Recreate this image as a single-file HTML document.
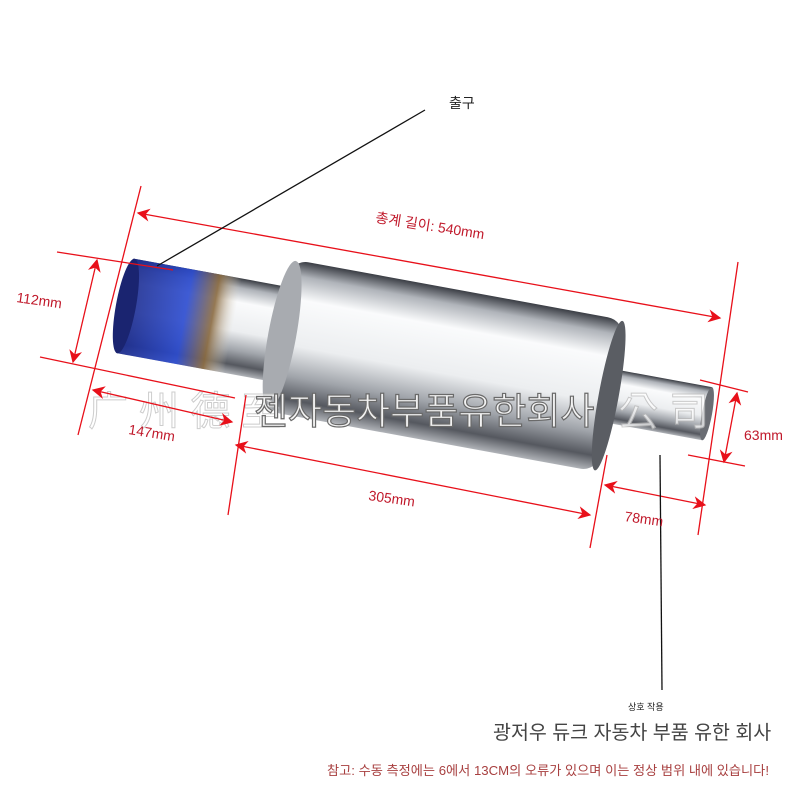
<!DOCTYPE html>
<html><head><meta charset="utf-8"><style>
html,body{margin:0;padding:0;background:#fff;}
svg{display:block}
text{font-family:"Liberation Sans","Noto Sans CJK KR",sans-serif;}
</style></head><body>
<svg width="800" height="800" viewBox="0 0 800 800" xmlns="http://www.w3.org/2000/svg">
<defs>
<linearGradient id="steel" x1="0" y1="0" x2="0" y2="1">
<stop offset="0" stop-color="#3a3d44"/><stop offset="0.1" stop-color="#b0b4ba"/>
<stop offset="0.25" stop-color="#fafbfc"/><stop offset="0.55" stop-color="#eceef0"/>
<stop offset="0.75" stop-color="#a0a4aa"/><stop offset="0.9" stop-color="#55585f"/><stop offset="1" stop-color="#b0b3b8"/>
</linearGradient>
<linearGradient id="blue" x1="0" y1="0" x2="1" y2="0">
<stop offset="0" stop-color="#1b2a8a"/><stop offset="0.55" stop-color="#2a4ad0"/><stop offset="0.8" stop-color="#8a6a40"/><stop offset="1" stop-color="#d8d0c0" stop-opacity="0"/>
</linearGradient>
<marker id="ar" viewBox="0 0 10 10" refX="9" refY="5" markerWidth="13" markerHeight="13" markerUnits="userSpaceOnUse" orient="auto-start-reverse"><path d="M0,0 L10,5 L0,10 L3,5z" fill="#e8101a"/></marker>
</defs>
<g transform="rotate(10.4 420 360)">
 <rect x="120" y="312" width="170" height="96" fill="url(#steel)"/>
 <rect x="120" y="312" width="110" height="96" fill="url(#blue)" opacity="0.9"/>
 <ellipse cx="121" cy="360" rx="10" ry="48" fill="#1a2470"/>
 <rect x="600" y="334" width="112" height="54" fill="url(#steel)"/>
 <ellipse cx="712" cy="361" rx="5" ry="27" fill="#6a6d73"/>
 <rect x="275" y="284" width="340" height="154" rx="18" fill="url(#steel)"/>
 <ellipse cx="280" cy="361" rx="14" ry="76" fill="#a8abb0"/>
 <ellipse cx="612" cy="361" rx="10" ry="76" fill="#5a5d63"/>
</g>
<text x="88" y="425" font-size="40" fill="#fff" stroke="#b8b8b8" stroke-width="1" opacity="0.7" font-family="Noto Sans CJK SC,sans-serif">广 州 德 至</text>
<text x="618" y="425" font-size="40" fill="#fff" stroke="#b8b8b8" stroke-width="1" opacity="0.7" font-family="Noto Sans CJK SC,sans-serif">公 司</text>
<text x="254" y="424" font-size="37" fill="#f2f2f2" stroke="#6a6a6a" stroke-width="1.2">젠자동차부품유한회사</text>
<g stroke="#e8101a" stroke-width="1.3" fill="none">
 <line x1="141" y1="186" x2="78" y2="435"/>
 <line x1="738" y1="262" x2="698" y2="535"/>
 <line x1="138" y1="213" x2="720" y2="318" marker-start="url(#ar)" marker-end="url(#ar)"/>
 <line x1="57" y1="252" x2="173" y2="270"/>
 <line x1="40" y1="357" x2="235" y2="398"/>
 <line x1="97" y1="260" x2="73" y2="362" marker-start="url(#ar)" marker-end="url(#ar)"/>
 <line x1="93" y1="390" x2="232" y2="422" marker-start="url(#ar)" marker-end="url(#ar)"/>
 <line x1="246" y1="395" x2="228" y2="515"/>
 <line x1="607" y1="455" x2="590" y2="548"/>
 <line x1="236" y1="445" x2="590" y2="515" marker-start="url(#ar)" marker-end="url(#ar)"/>
 <line x1="605" y1="485" x2="705" y2="505" marker-start="url(#ar)" marker-end="url(#ar)"/>
 <line x1="700" y1="380" x2="748" y2="392"/>
 <line x1="688" y1="455" x2="745" y2="466"/>
 <line x1="737" y1="393" x2="724" y2="462" marker-start="url(#ar)" marker-end="url(#ar)"/>
</g>
<g stroke="#111" stroke-width="1.3">
 <line x1="425" y1="110" x2="157" y2="266"/>
 <line x1="660" y1="455" x2="662" y2="690"/>
</g>
<text x="449" y="108" font-size="14" fill="#222">출구</text>
<text x="375" y="222" font-size="14" fill="#c0182a" transform="rotate(9 375 222)">총계 길이: 540mm</text>
<text x="16" y="302" font-size="14" fill="#c0182a" transform="rotate(8 16 302)">112mm</text>
<text x="128" y="434" font-size="14" fill="#c0182a" transform="rotate(9 128 434)">147mm</text>
<text x="368" y="500" font-size="14" fill="#c0182a" transform="rotate(8 368 500)">305mm</text>
<text x="624" y="521" font-size="14" fill="#c0182a" transform="rotate(8 624 521)">78mm</text>
<text x="744" y="440" font-size="14" fill="#c0182a">63mm</text>
<text x="628" y="710" font-size="9" fill="#222">상호 작용</text>
<text x="493" y="739" font-size="19.5" fill="#444">광저우 듀크 자동차 부품 유한 회사</text>
<text x="327" y="775" font-size="13.2" fill="#a84040">참고: 수동 측정에는 6에서 13CM의 오류가 있으며 이는 정상 범위 내에 있습니다!</text>
</svg>
</body></html>
